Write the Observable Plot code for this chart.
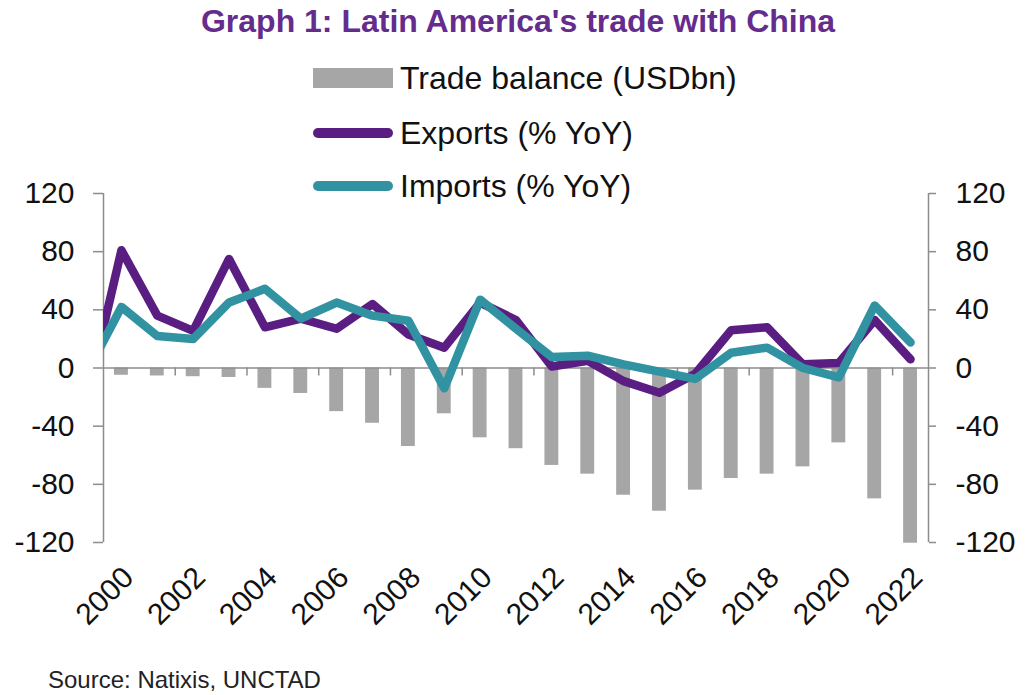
<!DOCTYPE html>
<html><head><meta charset="utf-8">
<script src="https://cdn.jsdelivr.net/npm/d3@7"></script>
<script src="https://cdn.jsdelivr.net/npm/@observablehq/plot@0.6"></script>
<style>
body{margin:0;background:#fff;font-family:"Liberation Sans",Arial,Helvetica,sans-serif;color:#111;}
#wrap{position:relative;width:1028px;height:695px;overflow:hidden;background:#fff;}
#title{position:absolute;top:5px;left:8px;width:1020px;text-align:center;font-weight:bold;font-size:32px;line-height:32px;color:#642C8C;}
.lg{position:absolute;left:0;height:40px;width:800px;}
.sw{position:absolute;left:313px;width:80px;}
.lt{position:absolute;left:400px;top:0;font-size:32px;line-height:40px;white-space:nowrap;}
#chart{position:absolute;left:0;top:160px;}
#source{position:absolute;left:48px;top:666px;font-size:24px;line-height:28px;color:#222;}
</style></head><body>
<div id="wrap">
  <div id="title">Graph 1: Latin America's trade with China</div>
  <div class="lg" style="top:58px"><div class="sw" style="top:10px;height:20px;background:#A6A6A6"></div><div class="lt">Trade balance (USDbn)</div></div>
  <div class="lg" style="top:113px"><div class="sw" style="top:15px;height:10px;border-radius:5px;background:#5A1E82"></div><div class="lt">Exports (% YoY)</div></div>
  <div class="lg" style="top:166px"><div class="sw" style="top:15px;height:10px;border-radius:5px;background:#3193A1"></div><div class="lt">Imports (% YoY)</div></div>
  <div id="chart"></div>
  <div id="source">Source: Natixis, UNCTAD</div>
</div>
<script>
const years = [2000,2001,2002,2003,2004,2005,2006,2007,2008,2009,2010,2011,2012,2013,2014,2015,2016,2017,2018,2019,2020,2021,2022];
const tradeBalance = [-5,-5.5,-6,-6.5,-14,-17.5,-30,-38,-54,-31.5,-48,-55.5,-67,-73,-87.5,-98.5,-84,-76,-73,-68,-51.5,-90,-120.5];
const lineYears = [1999,2000,2001,2002,2003,2004,2005,2006,2007,2008,2009,2010,2011,2012,2013,2014,2015,2016,2017,2018,2019,2020,2021,2022];
const exportsYoY = [-25,81,36,25.5,75,28,34,27,44,23,14,45,33,1,5,-9,-17,-4,26,28,2.5,3.5,33,6];
const importsYoY = [-5,42,22,20,45,54.5,34,45,36,32.5,-14,47,27,7.5,8.5,2.5,-2.5,-7.5,10.5,14,0,-6.5,43,17.5];
const yTicks = [-120,-80,-40,0,40,80,120];
const xTickLabels = [2000,2002,2004,2006,2008,2010,2012,2014,2016,2018,2020,2022];

const gray = "#A6A6A6", purple = "#5A1E82", teal = "#3193A1", axisGray = "#8C8C8C", txt = "#111";
const bars = years.map((year, i) => ({year, value: tradeBalance[i]}));
const lines = lineYears.map((year, i) => ({year, exports: exportsYoY[i], imports: importsYoY[i]}));
const xDomain = [years[0] - 0.5, years[years.length - 1] + 0.5];
const xTickMarks = xTickLabels.slice(1).map(y => y - 0.5);

const chart = Plot.plot({
  width: 1028, height: 480,
  marginLeft: 103, marginRight: 100, marginTop: 33, marginBottom: 98,
  x: {domain: xDomain, axis: null},
  y: {domain: [-120, 120], axis: null},
  style: {fontFamily: '"Liberation Sans", Arial, sans-serif', background: "transparent", overflow: "visible", color: txt},
  marks: [
    Plot.rectY(bars, {x1: d => d.year - 0.5, x2: d => d.year + 0.5, y1: 0, y2: "value", insetLeft: 11, insetRight: 11, fill: gray}),
    Plot.ruleX(xDomain, {stroke: axisGray, strokeWidth: 1.5}),
    Plot.ruleY([0], {stroke: axisGray, strokeWidth: 1.5}),
    Plot.ruleX(xTickMarks, {y1: 0, y2: 0, insetBottom: -8, stroke: axisGray, strokeWidth: 1.5}),
    Plot.axisY({anchor: "left", ticks: yTicks, tickSize: 10, tickPadding: 19, fontSize: 30, stroke: axisGray, strokeWidth: 1.5, fill: txt, tickFormat: d => String(d)}),
    Plot.axisY({anchor: "right", ticks: yTicks, tickSize: 7, tickPadding: 20, fontSize: 30, stroke: axisGray, strokeWidth: 1.5, fill: txt, tickFormat: d => String(d)}),
    Plot.line(lines, {x: "year", y: "exports", stroke: purple, strokeWidth: 8.5, strokeLinejoin: "round", strokeLinecap: "round", clip: true}),
    Plot.line(lines, {x: "year", y: "imports", stroke: teal, strokeWidth: 8.5, strokeLinejoin: "round", strokeLinecap: "round", clip: true}),
    Plot.text(xTickLabels, {x: d => d, text: d => String(d), frameAnchor: "bottom", rotate: -45, textAnchor: "end", lineAnchor: "middle", dx: 7, dy: 30, fontSize: 30, fill: txt})
  ]
});
document.getElementById("chart").appendChild(chart);
</script>
</body></html>
